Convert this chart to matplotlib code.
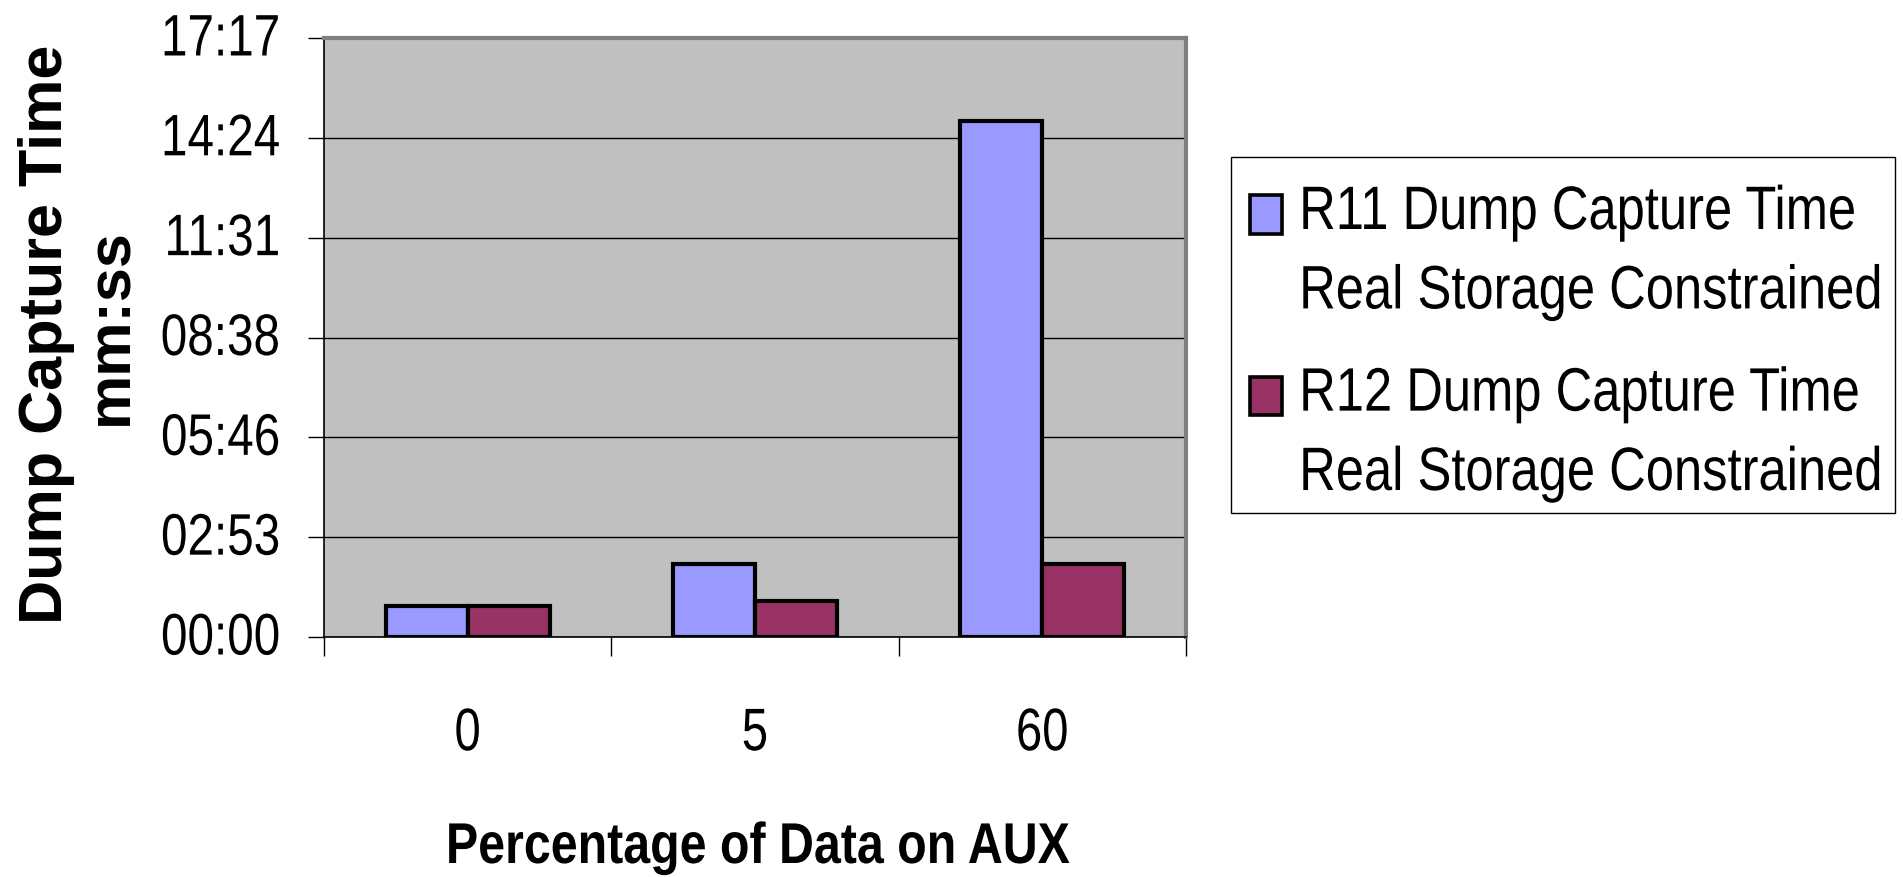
import numpy as np
from matplotlib import pyplot as plt
from matplotlib import patheffects
from matplotlib.patches import Rectangle
from matplotlib.legend_handler import HandlerPatch
from matplotlib.ticker import FuncFormatter
from matplotlib.transforms import Affine2D

# percentage of data on AUX and dump capture times in seconds
categories = ["0", "5", "60"]
r11_secs = [53, 127, 893]
r12_secs = [53, 63, 127]
series_names = ["R11 Dump Capture Time\nReal Storage Constrained",
                "R12 Dump Capture Time\nReal Storage Constrained"]
series_colors = ["#9999FF", "#993366"]

DAY = 86400.0   # time axis is kept in days, like a spreadsheet
FONT = ["Liberation Sans", "DejaVu Sans"]


class Tall(patheffects.AbstractPathEffect):
    """Stretch glyphs upward from the baseline, giving a narrow-looking face."""

    def __init__(self, sy):
        super().__init__()
        self._sy = sy

    def draw_path(self, renderer, gc, tpath, affine, rgbFace=None):
        renderer.draw_path(gc, tpath, Affine2D().scale(1, self._sy) + affine, rgbFace)


def mmss(v, pos=None):
    s = int(round(v * DAY))
    return "%02d:%02d" % (s // 60, s % 60)


def first_line_patch(legend, orig_handle, xdescent, ydescent, width, height, fontsize):
    # put the swatch next to the first line of a two line label
    return Rectangle((-xdescent, -ydescent + 0.83 * fontsize), width, height)


fig = plt.figure(figsize=(19.03, 8.77), dpi=100)
ax = fig.add_axes([324 / 1903, 1 - 637 / 877, (1186 - 324) / 1903, (637 - 38) / 877])
ax.set_facecolor("#C0C0C0")

x = np.arange(len(categories))
w = 1 / 3.5
bars = []
for i, secs in enumerate([r11_secs, r12_secs]):
    b = ax.bar(x + (i - 0.5) * w, np.array(secs) / DAY, w, color=series_colors[i],
               edgecolor="black", linewidth=3.0, label=series_names[i], zorder=3)
    bars.append(b)

ax.set_xlim(-0.5, len(categories) - 0.5)
ax.set_ylim(0, 0.012)
ax.set_yticks(np.arange(0, 0.0121, 0.002))
ax.yaxis.set_major_formatter(FuncFormatter(mmss))
ax.yaxis.grid(True, color="black", linewidth=1.0)
ax.set_axisbelow(True)

ax.set_xticks(np.arange(-0.5, len(categories), 1.0))
ax.set_xticklabels([])
ax.set_xticks(x, minor=True)
ax.set_xticklabels(categories, minor=True, family=FONT, fontsize=34)
ax.tick_params(axis="x", which="major", direction="out", length=14, width=1, color="black")
ax.tick_params(axis="x", which="minor", length=0, pad=57)
ax.tick_params(axis="y", direction="out", length=11.5, width=1, color="black", pad=20)
for lab in ax.get_yticklabels():
    lab.set_family(FONT)
    lab.set_fontsize(34.3)
    lab.set_path_effects([Tall(1.23)])
for lab in ax.get_xticklabels(minor=True):
    lab.set_path_effects([Tall(1.27)])

for side in ["top", "right"]:
    ax.spines[side].set_color("#808080")
    ax.spines[side].set_linewidth(3)
for side in ["left", "bottom"]:
    ax.spines[side].set_color("black")
    ax.spines[side].set_linewidth(1.2)

fig.text(62 / 1903, 1 - 334 / 877, "Dump Capture Time", rotation=90, rotation_mode="anchor",
         ha="center", va="baseline", family=FONT, fontweight="bold", fontsize=44)
fig.text(127 / 1903, 1 - 327 / 877, "mm:ss", rotation=90, rotation_mode="anchor",
         ha="center", va="baseline", family=FONT, fontweight="bold", fontsize=44)
fig.text(758 / 1903, 1 - 863 / 877, "Percentage of Data on AUX", ha="center", va="baseline",
         family=FONT, fontweight="bold", fontsize=34.8, path_effects=[Tall(1.19)])

leg = fig.legend(handles=[b.patches[0] for b in bars], labels=series_names, loc="upper left",
                 bbox_to_anchor=(1250 / 1903, 1 - 191 / 877), bbox_transform=fig.transFigure,
                 borderaxespad=0, borderpad=0, frameon=False,
                 prop={"family": FONT, "size": 36.5}, handlelength=0.63, handleheight=0.79,
                 handletextpad=0.34, labelspacing=1.05,
                 handler_map={Rectangle: HandlerPatch(patch_func=first_line_patch)})
for t in leg.get_texts():
    t.set_linespacing(1.80)
    t.set_path_effects([Tall(1.21)])
for h in leg.legend_handles:
    h.set_linewidth(2.6)

# legend box
fig.patches.append(Rectangle((1231 / 1903, 1 - 513 / 877), (1895 - 1231) / 1903, (513 - 157) / 877,
                             transform=fig.transFigure, fill=False, edgecolor="black",
                             linewidth=1.0))

fig.savefig("out.png", dpi=100)
